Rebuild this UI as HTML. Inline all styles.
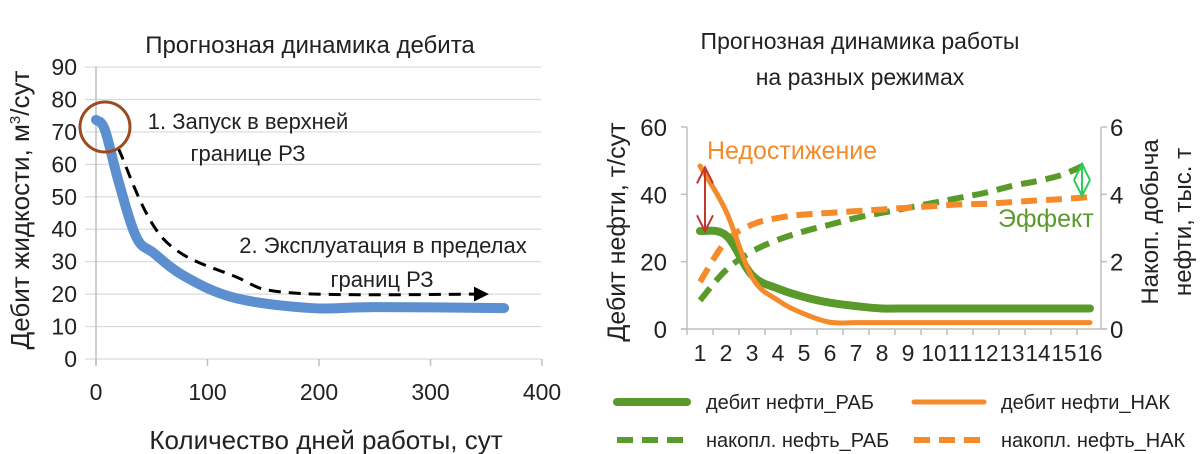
<!DOCTYPE html>
<html><head><meta charset="utf-8"><style>
html,body{margin:0;padding:0;background:#fff;}
svg{display:block;font-family:"Liberation Sans","DejaVu Sans",sans-serif;}
</style></head><body>
<svg id="s" width="1200" height="454" viewBox="0 0 1200 454" xmlns="http://www.w3.org/2000/svg">
<defs>
<marker id="ah" viewBox="0 0 10 10" refX="9" refY="5" markerWidth="5" markerHeight="5" orient="auto"><path d="M0,0L10,5L0,10z" fill="#000"/></marker>
</defs>
<g id="left"></g>
<g id="right"></g>
</svg>
<script>
// ---- Left chart data ----
const lxTicks=[0,100,200,300,400];
const lyTicks=[0,10,20,30,40,50,60,70,80,90];
const blueDays=[0,8,20,36,52,80,125,193,250,366];
const blueRate=[73.7,70.6,55,37.7,32.6,25.4,18.8,15.7,16,15.7];
const dashDays=[20,60,125,179,351];
const dashRate=[64.9,37.2,25.4,20.3,20];
// ---- Right chart data ----
const cats=[1,2,3,4,5,6,7,8,9,10,11,12,13,14,15,16];
const ryTicks=[0,20,40,60];
const r2Ticks=[0,2,4,6];
const rateRAB=[29.1,27.8,16,12,9.5,7.8,6.8,6.1,6.1,6.1,6.1,6.1,6.1,6.1,6.1,6.1];
const rateNAK=[48.4,35,15.4,8.5,4.5,2,1.9,1.9,1.9,1.9,1.9,1.9,1.9,1.9,1.9,1.9];
const cumRAB=[0.85,1.75,2.3,2.65,2.9,3.1,3.3,3.45,3.6,3.75,3.9,4.05,4.25,4.4,4.6,4.95];
const cumNAK=[1.4,2.6,3.1,3.3,3.4,3.45,3.5,3.55,3.6,3.65,3.7,3.72,3.77,3.82,3.86,3.92];

const NS="http://www.w3.org/2000/svg";
function mk(tag,attrs,parent,text){const e=document.createElementNS(NS,tag);for(const k in attrs)e.setAttribute(k,attrs[k]);if(text!==undefined)e.textContent=text;parent.appendChild(e);return e;}
function smooth(pts){let d='M'+pts[0][0]+','+pts[0][1];for(let i=0;i<pts.length-1;i++){const p0=pts[Math.max(0,i-1)],p1=pts[i],p2=pts[i+1],p3=pts[Math.min(pts.length-1,i+2)];const t=0.35;const c1=[p1[0]+(p2[0]-p0[0])*t/2*1.0,p1[1]+(p2[1]-p0[1])*t/2];const c2=[p2[0]-(p3[0]-p1[0])*t/2,p2[1]-(p3[1]-p1[1])*t/2];d+=` C${c1[0]},${c1[1]} ${c2[0]},${c2[1]} ${p2[0]},${p2[1]}`;}return d;}
const L=document.getElementById('left'), R=document.getElementById('right');

// Left axes
const lx=d=>96+d*1.115, ly=v=>359-v*3.244;
lyTicks.forEach(v=>{
 const g=mk('line',{x1:85,x2:541,y1:ly(v),y2:ly(v),stroke:'#d9d9d9','stroke-width':1.2},L);
 
 const t=mk('text',{x:77,y:ly(v)+8,'text-anchor':'end','font-size':23,fill:'#222'},L,String(v));
 
});
let a=mk('line',{x1:96,x2:96,y1:ly(90),y2:ly(0)+6,stroke:'#bfbfbf','stroke-width':1.5},L);

lxTicks.forEach(d=>{
 const k=mk('line',{x1:lx(d),x2:lx(d),y1:ly(0),y2:ly(0)+7,stroke:'#bfbfbf','stroke-width':1.5},L);
 
 const t=mk('text',{x:lx(d),y:400,'text-anchor':'middle','font-size':23,fill:'#222'},L,String(d));
 
});
let p=mk('path',{d:smooth(blueDays.map((d,i)=>[lx(d),ly(blueRate[i])])),fill:'none',stroke:'#5b8fd0','stroke-width':10,'stroke-linejoin':'round','stroke-linecap':'round'},L);

p=mk('path',{d:smooth(dashDays.map((d,i)=>[lx(d),ly(dashRate[i])])),fill:'none',stroke:'#000','stroke-width':3,'stroke-dasharray':'12,8','marker-end':'url(#ah)'},L);

p=mk('circle',{cx:105,cy:127,r:25,fill:'none',stroke:'#9c4a1e','stroke-width':3},L);

[['1. Запуск в верхней',248,129],['границе РЗ',248,161],['2. Эксплуатация в пределах',383,253],['границ РЗ',382,287]].forEach(([s,x,y])=>{
 const t=mk('text',{x:x,y:y,'text-anchor':'middle','font-size':22,fill:'#222'},L,s);
 
});
p=mk('text',{x:310,y:53,'text-anchor':'middle','font-size':24,fill:'#222'},L,'Прогнозная динамика дебита');

p=mk('text',{x:326,y:449,'text-anchor':'middle','font-size':26,fill:'#222'},L,'Количество дней работы, сут');

p=mk('text',{x:0,y:0,'text-anchor':'middle','font-size':26,fill:'#222',transform:'translate(29,210) rotate(-90)'},L);

p.innerHTML='Дебит жидкости, м<tspan dy="-9" font-size="15">3</tspan><tspan dy="9">/сут</tspan>';

// Right chart
const rx=c=>700+(c-1)*26, ry=v=>329-v*3.367, ry2=v=>329-v*33.67;
p=mk('line',{x1:687,x2:687,y1:ry(60),y2:ry(0),stroke:'#bfbfbf','stroke-width':1.5},R);

p=mk('line',{x1:1101,x2:1101,y1:ry(60),y2:ry(0),stroke:'#bfbfbf','stroke-width':1.5},R);

p=mk('line',{x1:681,x2:1107,y1:ry(0),y2:ry(0),stroke:'#bfbfbf','stroke-width':1.5},R);

ryTicks.forEach(v=>{
 const k=mk('line',{x1:681,x2:687,y1:ry(v),y2:ry(v),stroke:'#bfbfbf','stroke-width':1.5},R);
 
 const t=mk('text',{x:667,y:ry(v)+9,'text-anchor':'end','font-size':24,fill:'#222'},R,String(v));
 
});
r2Ticks.forEach(v=>{
 const k=mk('line',{x1:1101,x2:1107,y1:ry2(v),y2:ry2(v),stroke:'#bfbfbf','stroke-width':1.5},R);
 
 const t=mk('text',{x:1110,y:ry2(v)+9,'font-size':24,fill:'#222'},R,String(v));
 
});
cats.forEach(c=>{
 const k=mk('line',{x1:rx(c)-13,x2:rx(c)-13,y1:ry(0),y2:ry(0)+6,stroke:'#bfbfbf','stroke-width':1.5},R);
 
 const t=mk('text',{x:rx(c),y:361,'text-anchor':'middle','font-size':23,fill:'#222'},R,String(c));
 if(c>9){t.setAttribute('textLength',25);t.setAttribute('lengthAdjust','spacingAndGlyphs');}
 
});
const G='#5a9a2a',O='#f58a2a';
function series(vals,f,col,w,dash){const q=mk('path',{d:smooth(vals.map((v,i)=>[rx(cats[i]),f(v)])),fill:'none',stroke:col,'stroke-width':w,'stroke-linejoin':'round','stroke-linecap':dash?'butt':'round'},R);if(dash)q.setAttribute('stroke-dasharray',dash);return q;}
p=series(cumRAB,ry2,G,6,'16,9');
p=series(cumNAK,ry2,O,6,'16,9');
p=series(rateRAB,ry,G,8,null);
p=series(rateNAK,ry,O,5,null);
function dbl(x,y1,y2,col,name){const g=mk('g',{stroke:col,'stroke-width':2,fill:'none'},R);
 mk('line',{x1:x,x2:x,y1:y1,y2:y2},g);mk('polyline',{points:`${x-8},${y1+16} ${x},${y1} ${x+8},${y1+16}`},g);mk('polyline',{points:`${x-8},${y2-16} ${x},${y2} ${x+8},${y2-16}`},g);}
dbl(705,ry(48),ry(29),'#c0392b','shortfall-arrow');
dbl(1082,ry2(4.9),ry2(3.95),'#2ecc5a','effect-arrow');
p=mk('text',{x:707,y:159,'font-size':25,fill:O},R,'Недостижение');
p=mk('text',{x:998,y:227,'font-size':25,fill:G},R,'Эффект');
p=mk('text',{x:860,y:49,'text-anchor':'middle','font-size':23,fill:'#222'},R,'Прогнозная динамика работы');
p=mk('text',{x:860,y:85,'text-anchor':'middle','font-size':23,fill:'#222'},R,'на разных режимах');
p=mk('text',{x:0,y:0,'text-anchor':'middle','font-size':25,fill:'#222',transform:'translate(625,232) rotate(-90)'},R,'Дебит нефти, т/сут');
p=mk('text',{x:0,y:0,'text-anchor':'middle','font-size':24,fill:'#222',transform:'translate(1158,222) rotate(-90)'},R,'Накоп. добыча');
p=mk('text',{x:0,y:0,'text-anchor':'middle','font-size':24,fill:'#222',transform:'translate(1191,222) rotate(-90)'},R,'нефти, тыс. т');
// legend
[[615,402,G,null,'дебит нефти_РАБ',706],[912,402,O,null,'дебит нефти_НАК',1001],[615,440,G,'16,9','накопл. нефть_РАБ',706],[912,440,O,'16,9','накопл. нефть_НАК',1001]].forEach(([x,y,c,d,s,tx])=>{
 const g=mk('g',{},R);
 const l=mk('line',{x1:x+2,x2:x+72,y1:y,y2:y,stroke:c,'stroke-width':d?6:(c===G?8:5),'stroke-linecap':d?'butt':'round'},g);if(d)l.setAttribute('stroke-dasharray',d);
 mk('text',{x:tx,y:y+7,'font-size':20,fill:'#222'},g,s);
});
</script>
</body></html>
